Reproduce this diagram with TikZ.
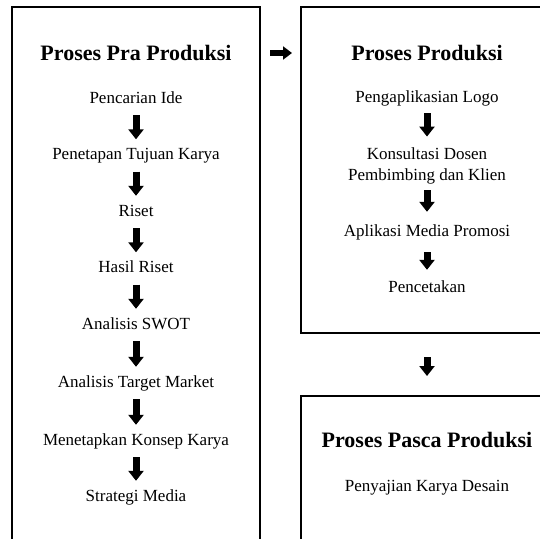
\documentclass[tikz,border=0pt]{standalone}
\usepackage{fontspec}
\setmainfont{Liberation Serif}
\usetikzlibrary{arrows.meta}

\begin{document}
\begin{tikzpicture}[x=1pt,y=-1pt,
    box/.style={draw,line width=1.8pt,inner sep=0,outer sep=0},
    title/.style={font=\fontsize{22}{26}\selectfont\bfseries,inner sep=0},
    item/.style={font=\fontsize{17}{21}\selectfont,inner sep=0,text height=12pt,text depth=4pt},
    down/.style={-{Triangle[width=15pt,length=10pt]},line width=7pt,shorten <=8pt,shorten >=8pt}]
    \useasboundingbox (0,0) rectangle (540,538);
    \clip (0,0) rectangle (540,538);

    % boxes
    \node[box,minimum width=248,minimum height=553] (prabox) at (136,283.5) {};
    \node[box,minimum width=252,minimum height=326] (prodbox) at (427,170) {};
    \node[box,minimum width=252,minimum height=204] (pascabox) at (427,498) {};

    % pra produksi
    \node[title] (praTitle) at (136,53) {Proses Pra Produksi};
    \node[item] (ide) at (136,99) {Pencarian Ide};
    \node[item] (tujuan) at (136,155.5) {Penetapan Tujuan Karya};
    \node[item] (riset) at (136,212) {Riset};
    \node[item] (hasil) at (136,268.5) {Hasil Riset};
    \node[item] (swot) at (136,325) {Analisis SWOT};
    \node[item] (target) at (136,383) {Analisis Target Market};
    \node[item] (konsep) at (136,441) {Menetapkan Konsep Karya};
    \node[item] (strategi) at (136,497) {Strategi Media};

    \draw[down] (ide) -- (tujuan);
    \draw[down] (tujuan) -- (riset);
    \draw[down] (riset) -- (hasil);
    \draw[down] (hasil) -- (swot);
    \draw[down] (swot) -- (target);
    \draw[down] (target) -- (konsep);
    \draw[down] (konsep) -- (strategi);

    % produksi
    \node[title] (prodTitle) at (427,53) {Proses Produksi};
    \node[item] (logo) at (427,98) {Pengaplikasian Logo};
    \node[font=\fontsize{17}{21}\selectfont,inner sep=0,align=center] (dosen) at (427,166) {Konsultasi Dosen\\Pembimbing dan Klien};
    \node[item] (media) at (427,232) {Aplikasi Media Promosi};
    \node[item] (cetak) at (427,288) {Pencetakan};

    \draw[down,shorten <=7pt,shorten >=11pt] (logo) -- (dosen);
    \draw[down,shorten <=6pt,shorten >=12pt] (dosen) -- (media);
    \draw[down,shorten <=12pt,shorten >=10pt] (media) -- (cetak);

    % pasca produksi
    \node[title] (pascaTitle) at (427,440) {Proses Pasca Produksi};
    \node[item] (sajian) at (427,487) {Penyajian Karya Desain};

    %arrows between boxes:
    \draw[-{Triangle[width=13pt,length=9pt]},line width=6pt,shorten <=10pt,shorten >=9pt]
        (prabox.east |- praTitle) -- (prodbox.west |- praTitle);
    \draw[down,shorten <=24pt,shorten >=20pt] (prodbox) -- (pascabox);
\end{tikzpicture}
\end{document}
